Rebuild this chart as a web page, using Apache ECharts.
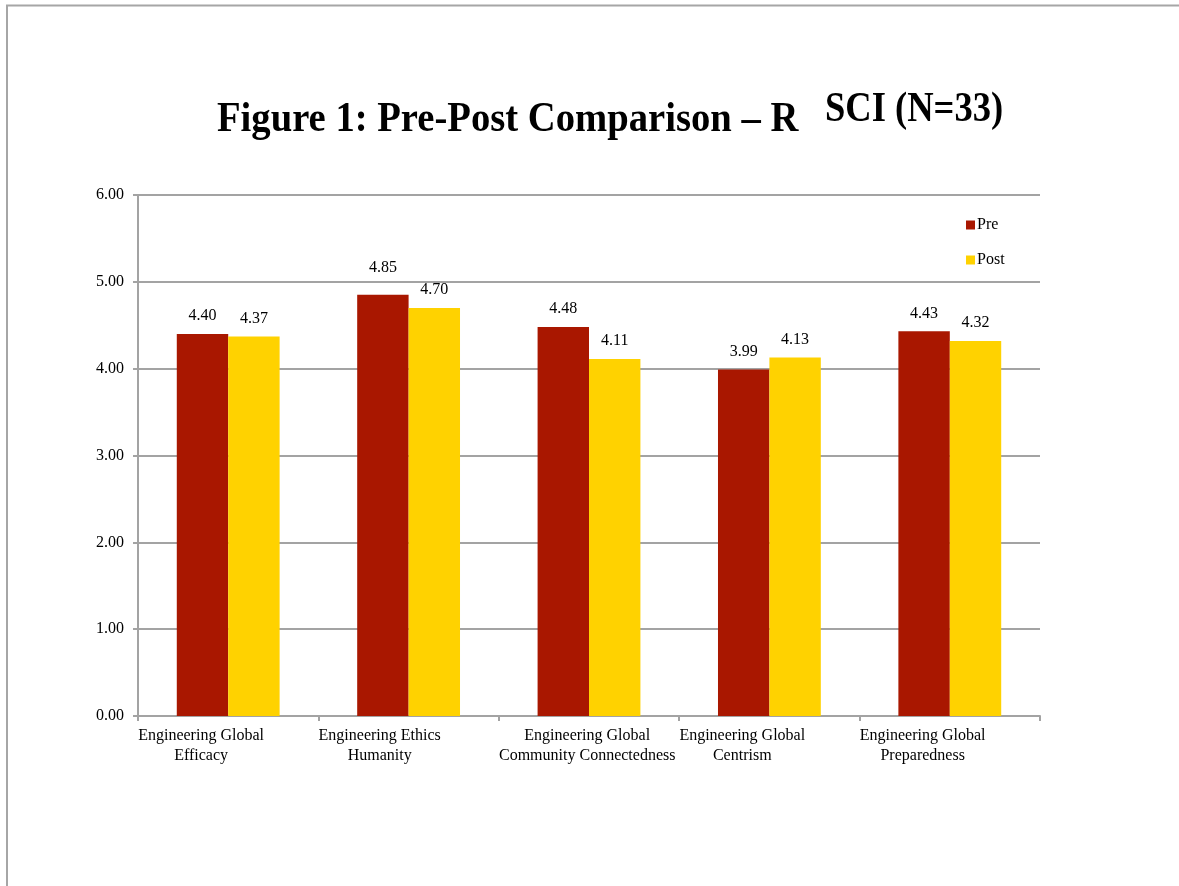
<!DOCTYPE html>
<html>
<head>
<meta charset="utf-8">
<script src="https://cdn.jsdelivr.net/npm/echarts@6/dist/echarts.min.js"></script>
<style>
  html, body { margin: 0; padding: 0; background: #fff; }
  #chart { width: 1179px; height: 886px; }
</style>
</head>
<body>
<div id="chart"></div>
<script>
// Scale names (two lines each) and mean scores before / after
const categories = [
  ['Engineering Global', 'Efficacy'],
  ['Engineering Ethics', 'Humanity'],
  ['Engineering Global', 'Community Connectedness'],
  ['Engineering Global', 'Centrism'],
  ['Engineering Global', 'Preparedness']
];
const preValues = [4.40, 4.85, 4.48, 3.99, 4.43];
const postValues = [4.37, 4.70, 4.11, 4.13, 4.32];
const yTicks = [0, 1, 2, 3, 4, 5, 6];

const titleMain = 'Figure 1: Pre-Post Comparison – R';
const titleRaised = 'SCI (N=33)';

const SERIF = '"Liberation Serif", "Times New Roman", serif';
const GRID_GRAY = '#a3a3a3';
const PRE_COLOR = '#a91700';
const POST_COLOR = '#ffd200';

// value labels sit just above each bar; the taller Pre label in the
// second group is lifted clear of its neighbour
const labelLift = { pre: { 1: 19 }, post: {} };

function barData(values, lifts) {
  return values.map((v, i) => ({
    value: v,
    label: { distance: lifts[i] !== undefined ? lifts[i] : 10 }
  }));
}

const chart = echarts.init(document.getElementById('chart'), null, { renderer: 'canvas' });

chart.setOption({
  backgroundColor: '#ffffff',
  animation: false,
  textStyle: { fontFamily: SERIF },
  graphic: [
    {
      type: 'rect',
      silent: true,
      shape: { x: 7, y: 5.5, width: 1300, height: 1000 },
      style: { fill: 'none', stroke: '#a6a6a6', lineWidth: 2 }
    },
    {
      type: 'text',
      silent: true,
      x: 217, y: 141,
      scaleX: 0.92,
      style: {
        text: titleMain,
        font: 'bold 42px ' + SERIF,
        fill: '#000',
        align: 'left',
        verticalAlign: 'bottom'
      }
    },
    {
      type: 'text',
      silent: true,
      x: 825, y: 131,
      scaleX: 0.87,
      style: {
        text: titleRaised,
        font: 'bold 42px ' + SERIF,
        fill: '#000',
        align: 'left',
        verticalAlign: 'bottom'
      }
    }
  ],
  legend: {
    orient: 'vertical',
    left: 966,
    top: 217,
    padding: 0,
    itemGap: 19,
    itemWidth: 9,
    itemHeight: 9,
    icon: 'rect',
    textStyle: { fontFamily: SERIF, fontSize: 16, color: '#000', padding: [2, 0, 0, -3] },
    data: ['Pre', 'Post']
  },
  grid: { left: 138, right: 139, top: 195, bottom: 170 },
  xAxis: {
    type: 'category',
    data: categories.map(c => c.join('\n')),
    boundaryGap: true,
    axisLine: { show: true, lineStyle: { color: GRID_GRAY, width: 2 } },
    axisTick: { show: true, alignWithLabel: false, length: 5, lineStyle: { color: GRID_GRAY, width: 2 } },
    axisLabel: {
      interval: 0,
      margin: 10,
      align: 'left',
      padding: [0, 0, 0, -90],
      color: '#000',
      formatter: (v) => v.split('\n').map(s => '{c|' + s + '}').join('\n'),
      rich: {
        c: { align: 'center', fontFamily: SERIF, fontSize: 16, lineHeight: 20, color: '#000' }
      }
    },
    splitLine: { show: false }
  },
  yAxis: {
    type: 'value',
    min: yTicks[0],
    max: yTicks[yTicks.length - 1],
    interval: 1,
    axisLine: { show: true, lineStyle: { color: GRID_GRAY, width: 2 } },
    axisTick: { show: true, length: 5, lineStyle: { color: GRID_GRAY, width: 2 } },
    axisLabel: {
      margin: 14,
      color: '#000',
      fontFamily: SERIF,
      fontSize: 16,
      padding: [4, 0, 0, 0],
      formatter: (v) => v.toFixed(2)
    },
    splitLine: { show: true, lineStyle: { color: GRID_GRAY, width: 2 } }
  },
  series: [
    {
      name: 'Pre',
      type: 'bar',
      data: barData(preValues, labelLift.pre),
      itemStyle: { color: PRE_COLOR },
      barGap: '0%',
      barCategoryGap: '43%',
      label: {
        show: true,
        position: 'top',
        color: '#000',
        fontFamily: SERIF,
        fontSize: 16,
        formatter: (p) => p.value.toFixed(2)
      }
    },
    {
      name: 'Post',
      type: 'bar',
      data: barData(postValues, labelLift.post),
      itemStyle: { color: POST_COLOR },
      barGap: '0%',
      barCategoryGap: '43%',
      label: {
        show: true,
        position: 'top',
        color: '#000',
        fontFamily: SERIF,
        fontSize: 16,
        formatter: (p) => p.value.toFixed(2)
      }
    }
  ]
});
</script>
</body>
</html>
